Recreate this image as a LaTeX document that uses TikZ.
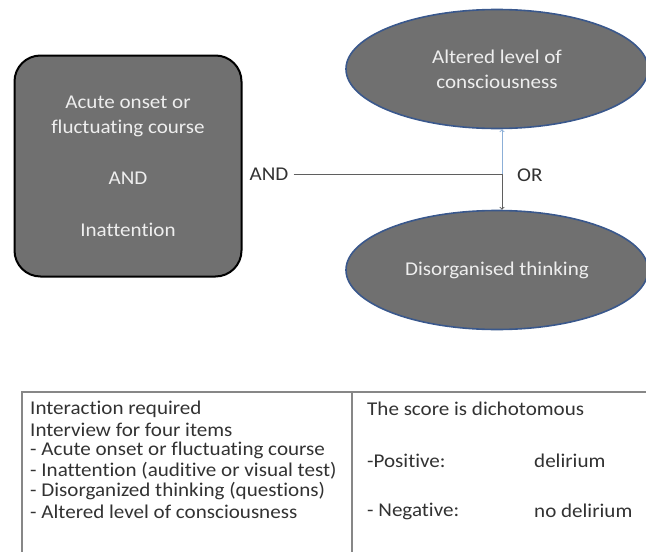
\documentclass[tikz,border=0pt]{standalone}
\usepackage{fontspec}
\setmainfont{Carlito}[FakeStretch=1.08, Ligatures=NoCommon]
\usetikzlibrary{shapes.geometric}

\definecolor{boxgray}{RGB}{112,112,112}
\definecolor{rimblue}{RGB}{58,88,140}
\definecolor{linegray}{RGB}{95,95,95}
\definecolor{arrowblue}{RGB}{140,175,215}
\definecolor{txtgray}{RGB}{50,50,50}
\definecolor{framegray}{RGB}{135,135,135}
\definecolor{lighttxt}{RGB}{238,238,238}

\tikzset{
  critbox/.style={draw=black, line width=2pt, fill=boxgray, rounded corners=26pt,
    minimum width=227pt, minimum height=221pt, text=lighttxt, align=center,
    font=\fontsize{19.5}{25.6}\selectfont},
  itembubble/.style={ellipse, draw=rimblue, line width=1.6pt, fill=boxgray,
    minimum width=302pt, minimum height=119pt, inner sep=0pt, text=lighttxt,
    align=center, font=\fontsize{19.5}{25}\selectfont},
  linklbl/.style={text=txtgray, inner sep=5pt, font=\fontsize{19.5}{23}\selectfont},
  tabtxt/.style={anchor=west, text=txtgray, inner sep=0pt, font=\fontsize{19.5}{23}\selectfont},
}

\begin{document}
\begin{tikzpicture}[x=1pt, y=-1pt]
    \useasboundingbox (0,0) rectangle (646,552);
    \node[critbox] (crit) at (128,166) {Acute onset or\\fluctuating course\\[25.6pt]AND\\[25.6pt]Inattention};
    \node[itembubble] (alt) at (497,69) {Altered level of\\consciousness};
    \node[itembubble] (dis) at (497,270) {Disorganised thinking};
    \node[linklbl] (andlbl) at (269,174) {AND};
    \node[linklbl, anchor=west] (orlbl) at (512,175) {OR};
    \coordinate (j) at (502,174);
    \draw[linegray, line width=0.9pt] (andlbl.east) -- (j);
    \draw[arrowblue, line width=0.9pt, ->] (j) -- (j |- alt.south);
    \draw[linegray, line width=0.9pt, ->] (j) -- (j |- dis.north);

    \draw[framegray, line width=1.5pt] (22,570) |- (660,392);
    \draw[framegray, line width=2.5pt] (352,392) -- (352,570);
    \node[tabtxt] (interact) at (30,409) {Interaction required};
    \node[tabtxt] (interview) at (30,430) {Interview for four items};
    \node[tabtxt] (itemA) at (30,450.5) {- Acute onset or fluctuating course};
    \node[tabtxt] (itemB) at (30,471) {- Inattention (auditive or visual test)};
    \node[tabtxt] (itemC) at (30,491.5) {- Disorganized thinking (questions)};
    \node[tabtxt] (itemD) at (30,512) {- Altered level of consciousness};
    \node[tabtxt] (score) at (367,409) {The score is dichotomous};
    \node[tabtxt] (pos) at (367,461) {-Positive:};
    \node[tabtxt] (posval) at (534,461) {delirium};
    \node[tabtxt] (neg) at (367,511) {- Negative:};
    \node[tabtxt] (negval) at (534,511) {no delirium};
\end{tikzpicture}
\end{document}
